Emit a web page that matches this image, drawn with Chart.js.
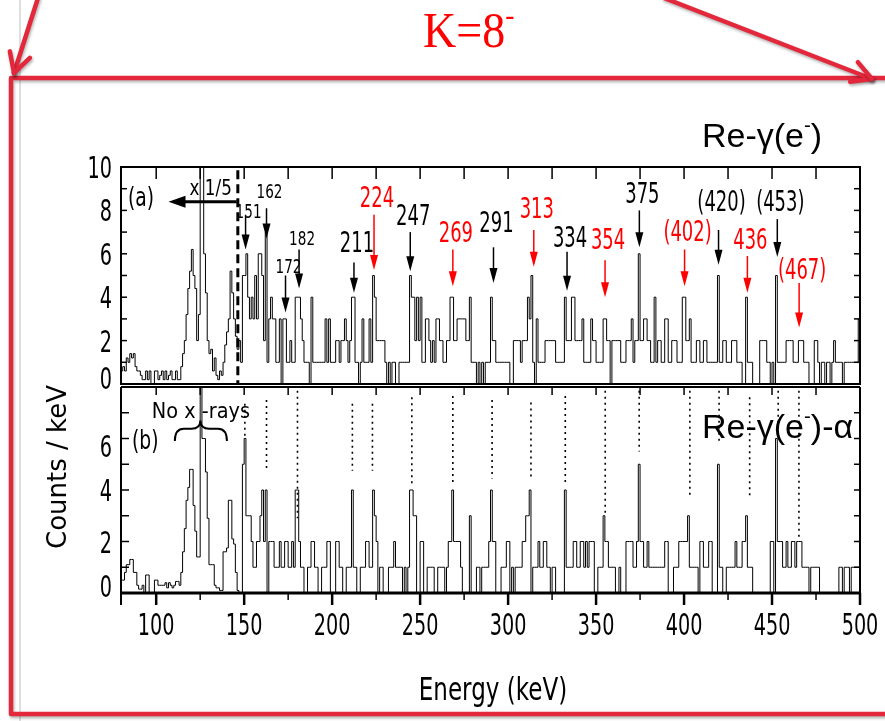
<!DOCTYPE html>
<html>
<head>
<meta charset="utf-8">
<script src="https://cdn.jsdelivr.net/npm/chart.js@4.4.1/dist/chart.umd.min.js"></script>
<style>
  html, body { margin: 0; padding: 0; background: #fff; }
  #wrap { position: relative; width: 885px; height: 721px; overflow: hidden; }
  #wrap canvas { position: absolute; left: 0; top: 0; }
</style>
</head>
<body>
<div id="wrap">
  <canvas id="panelA" width="885" height="721"></canvas>
  <canvas id="panelB" width="885" height="721"></canvas>
</div>
<script>
// 1 keV bins, lower edges from 80 keV up to 500 keV
const firstBin = 80;
const lastEdge = 500;

// (a) Re-gamma(e-) singles, counts per keV (below 147 keV scaled by 1/5)
const countsA = [
  0.6,0.8,0.6,1.2,1.0,1.4,1.2,1.4,0.8,0.6, 0.6,0.4,0.2,0.2,0.6,0.2,0.6,0,0,0.6,
  0.6,0.2,0.4,0.6,0.2,0.6,0.2,0.4,0.6,0.2, 0.2,0.6,0.2,0.2,0.8,1.4,2.0,3.2,4.4,5.2,
  6.2,5.0,4.4,2.0,3.2,12,12,6.0,4.2,2.0, 1.4,1.6,0.6,1.2,0.4,0.2,0.6,0.4,1.0,1.8,
  2.4,3.0,5.2,4.2,3.0,2.2,1.6,2,1,5, 5,6,4,3,4,3,5,3,6,6,
  5,2,7,1,3,4,3,3,1,1, 3,0,3,3,1,1,2,1,1,4,
  4,4,3,2,1,1,1,0,4,1, 1,1,1,1,1,1,3,1,3,1,
  1,1,2,2,1,2,2,3,2,1, 2,4,4,1,1,0,1,3,1,1,
  1,3,1,5,4,2,2,2,2,2, 1,0,1,0,1,1,0,0,1,1,
  1,1,1,1,5,4,4,2,4,2, 4,1,1,3,3,2,1,2,1,3,
  3,2,2,1,1,2,2,4,4,2, 2,3,3,3,3,3,2,2,4,1,
  1,1,0,1,0,1,0,1,1,1, 4,2,2,1,1,1,1,1,1,1,
  1,0,0,2,2,2,2,1,2,2, 2,4,3,5,1,0,3,1,1,1,
  1,2,2,2,2,2,2,1,1,1, 1,1,4,2,2,2,4,4,2,2,
  2,2,3,1,1,1,1,3,2,2, 1,1,1,1,3,3,2,2,0,2,
  2,2,2,2,1,1,1,2,2,2, 3,1,2,2,6,2,2,3,3,2,
  2,1,1,4,1,2,2,1,1,3, 3,1,1,2,2,2,1,1,1,4,
  4,2,2,3,1,1,1,2,2,1, 1,2,2,1,1,1,1,1,1,5,
  1,1,2,2,1,1,1,2,2,2, 1,1,1,0,0,4,1,1,1,0,
  0,0,0,2,2,2,2,1,1,0, 1,0,5,1,1,1,1,1,2,2,
  2,2,1,1,1,2,2,2,1,1, 1,0,0,0,2,2,1,0,1,1,
  0,1,1,0,1,2,1,1,1,1, 0,1,1,1,1,1,1,1,1,3
];

// (b) Re-gamma(e-)-alpha correlated, counts per keV
const countsB = [
  0.5,0.5,0.8,1.1,1.1,1.3,1.3,0.8,0.8,0.3, 0.15,0.15,0.3,0,0.7,0.7,0,0,0,0.5,
  0.5,0.3,0.3,0.3,0.3,0.4,0.2,0.4,0.3,0.2, 0.3,0.45,0.45,0.3,0.8,1.6,2.5,3.6,4.1,4.8,
  4.8,3.4,2.4,1.4,1.4,9,6,6,4.7,2.9, 1.1,1.1,1.1,0.3,0.2,0.2,0.1,0.1,1.6,1.6,
  1.75,3.6,3.6,2.1,1.9,0.8,0.1,0,0,5, 6,3,3,3,2,1,1,2,2,3,
  4,2,4,0,2,2,2,1,1,1, 2,1,1,2,2,1,1,2,1,4,
  4,2,1,1,0,0,1,1,2,2, 1,1,0,0,1,1,1,2,2,0,
  0,0,2,2,1,1,0,0,1,1, 1,4,1,1,0,0,1,1,1,2,
  2,1,1,4,3,2,0,1,1,0, 0,0,1,1,1,2,1,1,1,1,
  0,1,0,1,4,4,3,3,0,0, 2,2,0,0,1,1,1,1,0,0,
  1,1,1,1,0,1,2,2,4,2, 2,2,2,1,0,0,0,0,3,0,
  0,0,1,1,0,1,1,1,1,2, 4,2,2,0,0,0,1,1,1,2,
  2,0,1,0,1,1,1,1,2,2, 3,3,4,0,1,1,1,2,1,1,
  2,2,1,1,0,1,1,0,0,0, 0,0,4,1,1,1,1,2,2,1,
  1,2,2,1,2,1,2,2,2,0, 0,1,1,1,3,2,2,1,1,1,
  1,0,0,1,0,0,0,2,2,2, 2,1,1,2,5,2,2,1,1,2,
  1,1,1,1,1,1,1,1,1,2, 2,0,0,0,1,1,1,2,2,2,
  2,2,3,1,1,1,1,1,0,2, 2,1,1,1,2,2,0,0,0,5,
  1,1,0,0,1,1,1,1,1,2, 1,1,1,2,2,3,1,1,1,0,
  0,0,0,0,0,0,0,0,0,2, 2,0,6,2,2,2,1,1,2,1,
  1,2,2,1,2,2,2,1,1,1, 1,0,1,1,1,1,1,0,0,0,
  0,0,0,0,0,0,0,0,1,1, 0,1,1,1,0,1,1,1,1,1
];

// axis tick labels
const energyTicks = [100, 150, 200, 250, 300, 350, 400, 450, 500];
const countTicksA = [0, 2, 4, 6, 8, 10];
const countTicksB = [0, 2, 4, 6];

// gamma lines marked in (a): label, energy, arrow start/end and label baseline in counts
const peakLabels = ['151','162','172','182','211','224','247','269','291','313','334','354','375','(402)','(420)','436','(453)','(467)'];
const peakEnergy = [150.8,162.7,173.5,181.2,212.4,223.8,244.4,268.6,291.7,314.6,333.5,355.1,374.6,400.3,419.6,436.0,453.0,465.4];
const arrowFrom  = [7.8,8.1,5.0,6.2,5.6,7.8,7.0,6.2,6.3,7.1,6.1,5.7,8.0,6.2,7.1,5.9,7.6,4.65];
const arrowTo    = [6.2,6.7,3.3,4.4,4.2,5.25,5.2,4.5,4.65,5.4,4.3,4.0,6.3,4.5,5.5,4.2,5.85,2.6];
const labelAt    = [7.65,8.55,5.1,6.4,6.1,8.15,7.35,6.55,7.0,7.65,6.3,6.2,8.35,6.6,7.95,6.2,7.95,4.85];
const newLines   = ['224','269','313','354','(402)','436','(467)'];

// dotted guides in (b): energy, upper and lower end in counts
const guideEnergy = [150.4,162.7,180.3,211.5,222.9,245.3,268.6,290.9,313.0,332.5,355.2,374.5,403.3,419.9,437.3,453.5,465.3];
const guideTop    = [7.35,7.5,7.85,7.35,7.35,7.6,7.65,7.5,7.4,7.65,7.85,7.85,7.85,7.85,7.6,7.85,7.85];
const guideBottom = [6.0,4.75,2.9,4.75,4.75,4.15,4.25,4.45,4.45,4.25,3.05,5.5,3.7,5.8,3.7,6.0,2.15];

const SANS = '"DejaVu Sans", sans-serif';
const ARIAL = '"Liberation Sans", Arial, sans-serif';
const SERIF = '"Liberation Serif", "Times New Roman", serif';
const SLIDE_RED = '#e3283c';

function toSteps(counts) {
  const pts = counts.map((c, i) => ({ x: firstBin + i, y: c }));
  pts.push({ x: lastEdge, y: counts[counts.length - 1] });
  return pts;
}

function text(ctx, str, x, y, size, opt = {}) {
  ctx.save();
  ctx.font = size + 'px ' + (opt.family || SANS);
  ctx.fillStyle = opt.color || '#000';
  ctx.textAlign = opt.align || 'left';
  ctx.textBaseline = 'alphabetic';
  ctx.translate(x, y);
  if (opt.rotate) ctx.rotate(opt.rotate);
  ctx.scale(opt.sx || 1, 1);
  ctx.fillText(str, 0, 0);
  ctx.restore();
}

// text with a superscript part: parts = [[string, isSup], ...]
function supText(ctx, parts, x, y, size, family, color, sx) {
  ctx.save();
  ctx.fillStyle = color;
  ctx.textBaseline = 'alphabetic';
  ctx.translate(x, y);
  ctx.scale(sx, 1);
  let cx = 0;
  parts.forEach(([s, sup]) => {
    const fs = sup ? size * 0.6 : size;
    ctx.font = fs + 'px ' + family;
    ctx.fillText(s, cx, sup ? -size * 0.45 : 0);
    cx += ctx.measureText(s).width;
  });
  ctx.restore();
}

function line(ctx, x1, y1, x2, y2) {
  ctx.beginPath();
  ctx.moveTo(x1, y1);
  ctx.lineTo(x2, y2);
  ctx.stroke();
}

function openArrow(ctx, x1, y1, x2, y2, len) {
  line(ctx, x1, y1, x2, y2);
  const ang = Math.atan2(y1 - y2, x1 - x2);
  [-0.5, 0.5].forEach(d => {
    line(ctx, x2, y2, x2 + len * Math.cos(ang + d), y2 + len * Math.sin(ang + d));
  });
}

function downArrow(ctx, x, y1, y2, color) {
  ctx.save();
  ctx.strokeStyle = color;
  ctx.fillStyle = color;
  ctx.lineWidth = 1.5;
  line(ctx, x, y1, x, y2 - 12);
  ctx.beginPath();
  ctx.moveTo(x - 4, y2 - 15);
  ctx.lineTo(x + 4, y2 - 15);
  ctx.lineTo(x, y2);
  ctx.closePath();
  ctx.fill();
  ctx.restore();
}

function drawSlide(ctx) {
  ctx.save();
  ctx.strokeStyle = '#d4d4d4';
  ctx.lineWidth = 1.5;
  line(ctx, 20, 0, 20, 721);

  ctx.strokeStyle = SLIDE_RED;
  ctx.lineWidth = 4.5;
  ctx.lineCap = 'round';
  ctx.lineJoin = 'round';
  ctx.shadowColor = 'rgba(0,0,0,0.3)';
  ctx.shadowBlur = 3;
  ctx.shadowOffsetX = 1;
  ctx.shadowOffsetY = 2;
  ctx.beginPath();
  ctx.moveTo(900, 78);
  ctx.lineTo(11, 78);
  ctx.lineTo(11, 714);
  ctx.lineTo(900, 714);
  ctx.stroke();
  openArrow(ctx, 38, -2, 14, 73, 22);
  openArrow(ctx, 664, -2, 872, 79, 22);
  ctx.restore();

  supText(ctx, [['K=8', false], ['-', true]], 423, 47, 50, SERIF, '#ff0000', 0.92);
}

function makePanel(id, counts, yMax, pad, plugin) {
  return new Chart(document.getElementById(id), {
    type: 'line',
    data: {
      datasets: [{
        data: toSteps(counts),
        stepped: true,
        borderColor: '#000',
        borderWidth: 1,
        pointRadius: 0,
        fill: false
      }]
    },
    options: {
      responsive: false,
      animation: false,
      devicePixelRatio: 1,
      events: [],
      layout: { padding: pad },
      scales: {
        x: { type: 'linear', min: firstBin, max: lastEdge, display: false },
        y: { min: 0, max: yMax, display: false }
      },
      plugins: { legend: { display: false }, tooltip: { enabled: false } }
    },
    plugins: [plugin]
  });
}

// panel (a): axes box, x 1/5 marker, gamma-line arrows, slide frame and titles
const panelAPlugin = {
  id: 'panelA',
  beforeDraw(chart) {
    const ctx = chart.ctx;
    ctx.save();
    ctx.fillStyle = '#fff';
    ctx.fillRect(0, 0, chart.width, chart.height);
    ctx.restore();
  },
  afterDraw(chart) {
    const ctx = chart.ctx, a = chart.chartArea;
    const xs = chart.scales.x, ys = chart.scales.y;
    drawSlide(ctx);

    ctx.save();
    ctx.strokeStyle = '#000';
    ctx.lineWidth = 2;
    ctx.strokeRect(a.left, a.top, a.right - a.left, a.bottom - a.top);
    ctx.lineWidth = 1.5;
    for (let v = 0; v <= 10; v++) {
      const y = ys.getPixelForValue(v);
      line(ctx, a.left, y, a.left + 6, y);
      line(ctx, a.right - 6, y, a.right, y);
    }
    for (let e = 100; e <= 500; e += 25) {
      const x = xs.getPixelForValue(e);
      line(ctx, x, a.top, x, a.top + 12);
    }
    ctx.restore();

    countTicksA.forEach(v => {
      const y = ys.getPixelForValue(v) + 11 + (v === 0 ? -6 : 0);
      text(ctx, String(v), 112, y, 31, { align: 'right', sx: 0.62 });
    });

    // scaled region boundary and arrow
    ctx.save();
    ctx.strokeStyle = '#000';
    ctx.lineWidth = 3;
    ctx.setLineDash([9, 5]);
    const xb = xs.getPixelForValue(146.4);
    line(ctx, xb, ys.getPixelForValue(9.85), xb, a.bottom);
    ctx.setLineDash([]);
    const ya = ys.getPixelForValue(8.4);
    const xTip = xs.getPixelForValue(107);
    line(ctx, xs.getPixelForValue(145.8), ya, xTip + 14, ya);
    ctx.fillStyle = '#000';
    ctx.beginPath();
    ctx.moveTo(xTip, ya);
    ctx.lineTo(xTip + 17, ya - 6);
    ctx.lineTo(xTip + 17, ya + 6);
    ctx.closePath();
    ctx.fill();
    ctx.restore();
    text(ctx, 'x 1/5', xs.getPixelForValue(131), ys.getPixelForValue(8.7), 21, { align: 'center', sx: 0.8 });
    text(ctx, '(a)', 128, 206, 26, { sx: 0.72 });

    peakLabels.forEach((lab, i) => {
      const x = xs.getPixelForValue(peakEnergy[i]);
      const color = newLines.includes(lab) ? '#ff0000' : '#000';
      downArrow(ctx, x, ys.getPixelForValue(arrowFrom[i]), ys.getPixelForValue(arrowTo[i]), color);
      const small = i < 4;
      text(ctx, lab, x + 3, ys.getPixelForValue(labelAt[i]), small ? 20 : 29,
        { align: 'center', sx: small ? 0.68 : 0.62, color });
    });

    supText(ctx, [['Re-\u03b3(e', false], ['-', true], [')', false]], 702, 147, 34, ARIAL, '#000', 1);
    text(ctx, 'Counts / keV', 66, 467, 26, { align: 'center', rotate: -Math.PI / 2 });
    text(ctx, 'Energy (keV)', 493, 700, 32, { align: 'center', sx: 0.72 });
  }
};

// panel (b): axes box, energy ticks, dotted guides, brace and labels
const panelBPlugin = {
  id: 'panelB',
  afterDraw(chart) {
    const ctx = chart.ctx, a = chart.chartArea;
    const xs = chart.scales.x, ys = chart.scales.y;

    ctx.save();
    ctx.strokeStyle = '#000';
    ctx.lineWidth = 2;
    line(ctx, a.left, a.top, a.right, a.top);
    line(ctx, a.left, a.top, a.left, a.bottom + 12);
    line(ctx, a.right, a.top, a.right, a.bottom + 12);
    ctx.lineWidth = 3;
    line(ctx, a.left, a.bottom, a.right, a.bottom);
    ctx.lineWidth = 1.5;
    for (let v = 0; v <= 8; v++) {
      const y = ys.getPixelForValue(v);
      line(ctx, a.left, y, a.left + 8, y);
      line(ctx, a.right - 6, y, a.right, y);
    }
    for (let e = 100; e <= 500; e += 25) {
      const x = xs.getPixelForValue(e);
      line(ctx, x, a.top, x, a.top + 8);
      ctx.lineWidth = e % 50 === 0 ? 2.5 : 1.5;
      line(ctx, x, a.bottom, x, a.bottom + (e % 50 === 0 ? 12 : 7));
      ctx.lineWidth = 1.5;
    }

    ctx.lineWidth = 1.6;
    ctx.setLineDash([2, 4]);
    guideEnergy.forEach((e, i) => {
      const x = xs.getPixelForValue(e);
      line(ctx, x, ys.getPixelForValue(guideTop[i]), x, ys.getPixelForValue(guideBottom[i]));
    });
    ctx.setLineDash([]);

    // brace over the x-ray peaks
    const x1 = xs.getPixelForValue(110.6), x2 = xs.getPixelForValue(140.2), xm = xs.getPixelForValue(125.1);
    const yb = ys.getPixelForValue(5.9), ym = ys.getPixelForValue(6.38), yt = ys.getPixelForValue(6.7);
    ctx.lineWidth = 2;
    ctx.beginPath();
    ctx.moveTo(x1, yb);
    ctx.quadraticCurveTo(x1, ym, x1 + 9, ym);
    ctx.lineTo(xm - 9, ym);
    ctx.quadraticCurveTo(xm, ym, xm, yt);
    ctx.quadraticCurveTo(xm, ym, xm + 9, ym);
    ctx.lineTo(x2 - 9, ym);
    ctx.quadraticCurveTo(x2, ym, x2, yb);
    ctx.stroke();
    ctx.restore();

    countTicksB.forEach(v => {
      const nudge = v === 0 ? -7 : (v === 6 ? 7 : 0);
      text(ctx, String(v), 112, ys.getPixelForValue(v) + 11 + nudge, 31, { align: 'right', sx: 0.62 });
    });
    energyTicks.forEach(e => {
      text(ctx, String(e), xs.getPixelForValue(e), 635, 31, { align: 'center', sx: 0.62 });
    });

    text(ctx, 'No x -rays', xs.getPixelForValue(125.4), 418, 21, { align: 'center', sx: 0.92 });
    text(ctx, '(b)', 132, 449, 26, { sx: 0.72 });
    supText(ctx, [['Re-\u03b3(e', false], ['-', true], [')-\u03b1', false]], 702, 438, 34, ARIAL, '#000', 1);
  }
};

const chartA = makePanel('panelA', countsA, 10, { left: 121, right: 25, top: 167, bottom: 337 }, panelAPlugin);
const chartB = makePanel('panelB', countsB, 8, { left: 121, right: 25, top: 387, bottom: 128 }, panelBPlugin);
</script>
</body>
</html>
